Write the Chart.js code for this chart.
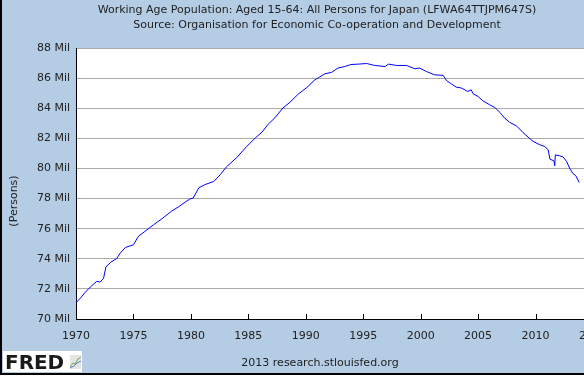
<!DOCTYPE html>
<html><head><meta charset="utf-8">
<script src="https://cdn.jsdelivr.net/npm/chart.js@4"></script>
<style>
html,body{margin:0;padding:0;overflow:hidden;background:#fff;width:584px;height:380px}
#wrap{position:relative;width:634px;height:380px}
canvas{display:block}
</style></head><body>
<div id="wrap"><canvas id="c" width="634" height="380" style="width:634px;height:380px"></canvas></div>
<script>
// ---- data ----
const titleLines = [
  "Working Age Population: Aged 15-64: All Persons for Japan (LFWA64TTJPM647S)",
  "Source: Organisation for Economic Co-operation and Development"
];
const axisLabel = "(Persons)";
const footerText = "2013 research.stlouisfed.org";
const xTicks = [1970, 1975, 1980, 1985, 1990, 1995, 2000, 2005, 2010, 2015];
const yTicks = [70, 72, 74, 76, 78, 80, 82, 84, 86, 88];
const years = [
  1970.0, 1970.4, 1970.8, 1971.24, 1971.8, 1972.1, 1972.4, 1972.6, 1973.0, 1973.55,
  1973.85, 1974.3, 1975.0, 1975.43, 1976.0, 1976.75, 1977.45, 1978.3, 1978.9, 1979.9,
  1980.2, 1980.7, 1981.2, 1982.0, 1982.55, 1983.1, 1984.0, 1984.86, 1985.6, 1986.2,
  1986.74, 1987.3, 1988.0, 1988.6, 1989.35, 1990.1, 1990.8, 1991.2, 1991.67, 1992.25,
  1992.8, 1993.4, 1993.9, 1994.56, 1995.3, 1996.0, 1996.9, 1997.2, 1997.9, 1998.77,
  1999.5, 1999.9, 2000.5, 2001.2, 2001.96, 2002.25, 2002.7, 2003.1, 2003.56, 2004.1,
  2004.4, 2004.56, 2005.0, 2005.4, 2006.0, 2006.45, 2006.9, 2007.3, 2007.75, 2008.34,
  2008.9, 2009.35, 2009.78, 2010.37, 2010.8, 2011.1, 2011.25, 2011.6, 2011.67, 2011.72,
  2012.1, 2012.4, 2012.7, 2013.0, 2013.27, 2013.5, 2013.8
];
const values = [
  71.08, 71.4, 71.77, 72.12, 72.5, 72.45, 72.7, 73.45, 73.76, 74.02,
  74.38, 74.75, 74.93, 75.49, 75.82, 76.26, 76.64, 77.15, 77.44, 77.97,
  78.03, 78.72, 78.92, 79.14, 79.58, 80.11, 80.73, 81.46, 82.02, 82.42,
  82.95, 83.35, 84.01, 84.38, 84.94, 85.38, 85.89, 86.07, 86.29, 86.38,
  86.67, 86.77, 86.9, 86.93, 86.97, 86.84, 86.77, 86.93, 86.84, 86.84,
  86.62, 86.67, 86.44, 86.22, 86.18, 85.84, 85.6, 85.4, 85.34, 85.11,
  85.22, 84.96, 84.78, 84.5, 84.23, 84.05, 83.72, 83.35, 83.06, 82.83,
  82.39, 82.08, 81.8, 81.57, 81.46, 81.24, 80.62, 80.5, 80.18, 80.9,
  80.84, 80.76, 80.47, 79.96, 79.65, 79.52, 79.07
];

const FONT = '"DejaVu Sans", "Liberation Sans", sans-serif';
const TEXT = '#222222';
const PANEL = '#b4cce4';

const decor = {
  id: 'decor',
  beforeDraw(chart) {
    const ctx = chart.ctx, W = chart.width, H = chart.height, a = chart.chartArea;
    ctx.save();
    ctx.fillStyle = '#ffffff';
    ctx.fillRect(0, 0, W, H);
    ctx.fillStyle = PANEL;
    ctx.fillRect(2, 0, W - 2, 373);
    ctx.fillStyle = '#000000';
    ctx.fillRect(0, 0, 2, 375);
    ctx.fillRect(0, 373, W, 2);
    ctx.fillStyle = '#ffffff';
    ctx.fillRect(a.left, a.top, a.right - a.left, a.bottom - a.top);
    ctx.restore();
  },
  afterDraw(chart) {
    const ctx = chart.ctx, a = chart.chartArea, xs = chart.scales.x;
    ctx.save();
    // inward tick marks on the x axis
    ctx.strokeStyle = '#000000';
    ctx.lineWidth = 1;
    xTicks.forEach(v => {
      const px = Math.round(xs.getPixelForValue(v)) + 0.5;
      ctx.beginPath();
      ctx.moveTo(px, a.bottom);
      ctx.lineTo(px, a.bottom - 5);
      ctx.stroke();
    });
    // titles
    ctx.fillStyle = TEXT;
    ctx.font = '11px ' + FONT;
    ctx.textAlign = 'center';
    ctx.textBaseline = 'middle';
    ctx.fillText(titleLines[0], 317, 10);
    ctx.fillText(titleLines[1], 317, 25);
    ctx.fillText(footerText, 320, 363);
    // axis label
    ctx.save();
    ctx.translate(14, 201);
    ctx.rotate(-Math.PI / 2);
    ctx.fillText(axisLabel, 0, 0);
    ctx.restore();
    // FRED logo
    ctx.fillStyle = '#ffffff';
    ctx.fillRect(3, 351, 79, 21);
    ctx.fillStyle = '#1a1a1a';
    ctx.font = 'bold 19px ' + FONT;
    ctx.textAlign = 'left';
    ctx.textBaseline = 'alphabetic';
    ctx.save();
    ctx.translate(5, 368.5);
    ctx.scale(1.05, 1);
    ctx.fillText('FRED', 0, 0);
    ctx.restore();
    ctx.fillStyle = '#e4e4e4';
    ctx.fillRect(70, 355, 11, 14);
    ctx.lineWidth = 1;
    ctx.strokeStyle = '#6aa84f';
    ctx.beginPath();
    ctx.moveTo(70, 367); ctx.lineTo(73, 363); ctx.lineTo(75, 364); ctx.lineTo(78, 359); ctx.lineTo(81, 357);
    ctx.stroke();
    ctx.strokeStyle = '#5b7fc0';
    ctx.beginPath();
    ctx.moveTo(70, 368); ctx.lineTo(74, 366); ctx.lineTo(77, 363); ctx.lineTo(81, 361);
    ctx.stroke();
    ctx.restore();
  }
};

new Chart(document.getElementById('c'), {
  type: 'line',
  data: {
    datasets: [{
      data: years.map((x, i) => ({ x: x, y: values[i] })),
      borderColor: '#0000ff',
      borderWidth: 1,
      pointRadius: 0,
      tension: 0,
      fill: false
    }]
  },
  options: {
    responsive: false,
    devicePixelRatio: 1,
    animation: false,
    layout: { padding: { top: 48, right: 41, left: 0, bottom: 0 } },
    plugins: { legend: { display: false }, title: { display: false }, tooltip: { enabled: false } },
    scales: {
      x: {
        type: 'linear',
        min: 1970,
        max: 2015,
        afterBuildTicks(scale) { scale.ticks = xTicks.map(v => ({ value: v })); },
        afterFit(scale) { scale.height = 61; },
        ticks: {
          autoSkip: false, maxRotation: 0, padding: 11,
          color: TEXT, font: { family: FONT, size: 11 },
          callback: v => String(v)
        },
        grid: { display: false, drawTicks: false },
        border: { display: true, color: '#000000', width: 1 }
      },
      y: {
        min: 70,
        max: 88,
        afterBuildTicks(scale) { scale.ticks = yTicks.map(v => ({ value: v })); },
        afterFit(scale) { scale.width = 76; },
        ticks: {
          padding: 6, color: TEXT, font: { family: FONT, size: 11 },
          callback: v => v + ' Mil'
        },
        grid: { color: '#aaaaaa', lineWidth: 1, drawTicks: false },
        border: { display: true, color: '#000000', width: 1 }
      }
    }
  },
  plugins: [decor]
});
</script>
</body></html>
